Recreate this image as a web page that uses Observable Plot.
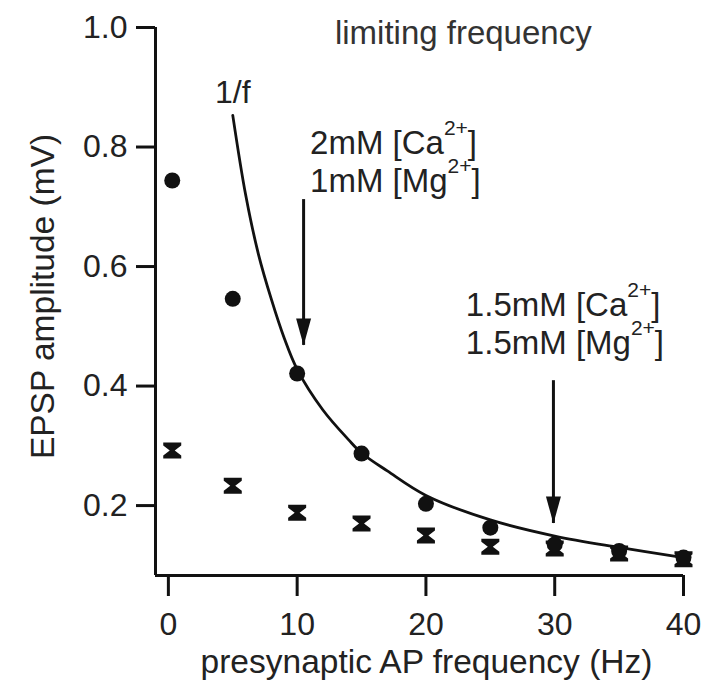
<!DOCTYPE html>
<html>
<head>
<meta charset="utf-8">
<script src="https://cdn.jsdelivr.net/npm/d3@7"></script>
<script src="https://cdn.jsdelivr.net/npm/@observablehq/plot@0.6"></script>
<style>
  body { margin: 0; background: #fff; }
  #chart svg { display: block; }
</style>
</head>
<body>
<div id="chart"></div>
<script>
// ---- data ----
const freq = [0.3, 5, 10, 15, 20, 25, 30, 35, 40];
const ampCircle = [0.744, 0.546, 0.421, 0.287, 0.203, 0.163, 0.135, 0.124, 0.113];
const ampHourglass = [0.292, 0.233, 0.188, 0.170, 0.150, 0.131, 0.128, 0.120, 0.110];

const fitFreq = [5, 6, 7, 8, 9, 10, 12, 14, 15, 17, 20, 25, 30, 35, 40];
const fitAmp = [0.853, 0.72, 0.62, 0.545, 0.48, 0.428, 0.36, 0.31, 0.288, 0.258, 0.217, 0.176, 0.149, 0.130, 0.113];

const xTicks = [0, 10, 20, 30, 40];
const yTicks = [0.2, 0.4, 0.6, 0.8, 1.0];

const arrowX = [10.5, 29.9];
const arrowFrom = [0.712, 0.409];
const arrowTo = [0.468, 0.170];

const noteLines = ["2mM [Ca2+]", "1mM [Mg2+]", "1.5mM [Ca2+]", "1.5mM [Mg2+]"];
const noteX = [11.0, 11.0, 23.1, 23.1];
const noteY = [0.789, 0.724, 0.518, 0.453];

const titleText = ["limiting frequency"];
const titleX = [22.9];
const titleY = [0.973];

const fitLabel = ["1/f"];
const fitLabelX = [5.0];
const fitLabelY = [0.873];

const xTitle = "presynaptic AP frequency (Hz)";
const yTitle = "EPSP amplitude (mV)";

const xDomain = [-1, 40];
const yDomain = [0.083, 1.0];

// ---- symbols ----
const hourglass = {
  draw(ctx) {
    ctx.moveTo(-9, -8); ctx.lineTo(9, -8); ctx.lineTo(9, -5); ctx.lineTo(2.5, 0);
    ctx.lineTo(9, 5); ctx.lineTo(9, 8); ctx.lineTo(-9, 8); ctx.lineTo(-9, 5);
    ctx.lineTo(-2.5, 0); ctx.lineTo(-9, -5); ctx.closePath();
  }
};
const arrowHead = {
  draw(ctx) {
    ctx.moveTo(0, 0); ctx.lineTo(-7.5, -27); ctx.lineTo(7.5, -27); ctx.closePath();
  }
};

const points = freq.map((f, i) => ({f, c: ampCircle[i], h: ampHourglass[i]}));
const fit = fitFreq.map((f, i) => ({f, a: fitAmp[i]}));
const arrows = arrowX.map((x, i) => ({x, y1: arrowFrom[i], y2: arrowTo[i]}));
const notes = noteLines.map((t, i) => ({t, x: noteX[i], y: noteY[i]}));

const ink = "#111";
const font = "'Liberation Sans', Arial, Helvetica, sans-serif";

const plot = Plot.plot({
  width: 706,
  height: 683,
  marginLeft: 155,
  marginRight: 23,
  marginTop: 27,
  marginBottom: 108,
  x: {domain: xDomain},
  y: {domain: yDomain},
  style: {fontFamily: font, fontSize: "32px", color: ink, background: "#fff", overflow: "visible"},
  marks: [
    Plot.axisY(yTicks, {tickSize: 19, tickPadding: 9, tickFormat: ".1f", strokeWidth: 3, label: null, fill: "#222"}),
    Plot.axisX(xTicks, {tickSize: 21, tickPadding: 16, tickFormat: "d", strokeWidth: 3, label: null, fill: "#222"}),
    Plot.ruleX([xDomain[0]], {y1: yDomain[0], y2: yDomain[1], stroke: ink, strokeWidth: 3}),
    Plot.ruleY([yDomain[0]], {x1: xDomain[0], x2: xDomain[1], stroke: ink, strokeWidth: 3}),
    Plot.line(fit, {x: "f", y: "a", curve: "catmull-rom", stroke: ink, strokeWidth: 2.8}),
    Plot.dot(points, {x: "f", y: "h", symbol: hourglass, r: 8, fill: ink, stroke: "none"}),
    Plot.dot(points, {x: "f", y: "c", r: 8, fill: ink, stroke: "none"}),
    Plot.ruleX(arrows, {x: "x", y1: "y1", y2: "y2", stroke: ink, strokeWidth: 3}),
    Plot.dot(arrows, {x: "x", y: "y2", symbol: arrowHead, r: 8, fill: ink, stroke: "none"}),
    Plot.text(notes, {x: "x", y: "y", text: "t", textAnchor: "start", lineAnchor: "bottom", fontSize: 33, fill: "#222"}),
    Plot.text(titleText, {x: (d, i) => titleX[i], y: (d, i) => titleY[i], text: d => d, textAnchor: "middle", lineAnchor: "bottom", fontSize: 33, fill: "#333"}),
    Plot.text(fitLabel, {x: (d, i) => fitLabelX[i], y: (d, i) => fitLabelY[i], text: d => d, textAnchor: "middle", lineAnchor: "bottom", fontSize: 32, fill: "#222"}),
    Plot.text([xTitle], {frameAnchor: "bottom", text: d => d, textAnchor: "middle", dx: 7, dy: 97, lineAnchor: "bottom", fontSize: 33.5, fill: "#222"}),
    Plot.text([yTitle], {frameAnchor: "left", text: d => d, rotate: -90, textAnchor: "middle", dx: -102, dy: -5, lineAnchor: "bottom", fontSize: 33.5, fill: "#222"})
  ]
});

// superscript charges as real tspans
const ns = "http://www.w3.org/2000/svg";
plot.querySelectorAll("text").forEach(t => {
  if (t.querySelector("tspan")) return;
  const s = t.textContent;
  const i = s.indexOf("2+");
  if (i < 0) return;
  t.textContent = s.slice(0, i);
  const sup = document.createElementNS(ns, "tspan");
  sup.setAttribute("dy", "-19");
  sup.setAttribute("font-size", "21");
  sup.textContent = "2+";
  const rest = document.createElementNS(ns, "tspan");
  rest.setAttribute("dy", "19");
  rest.textContent = s.slice(i + 2);
  t.appendChild(sup);
  t.appendChild(rest);
});

document.getElementById("chart").appendChild(plot);
</script>
</body>
</html>
